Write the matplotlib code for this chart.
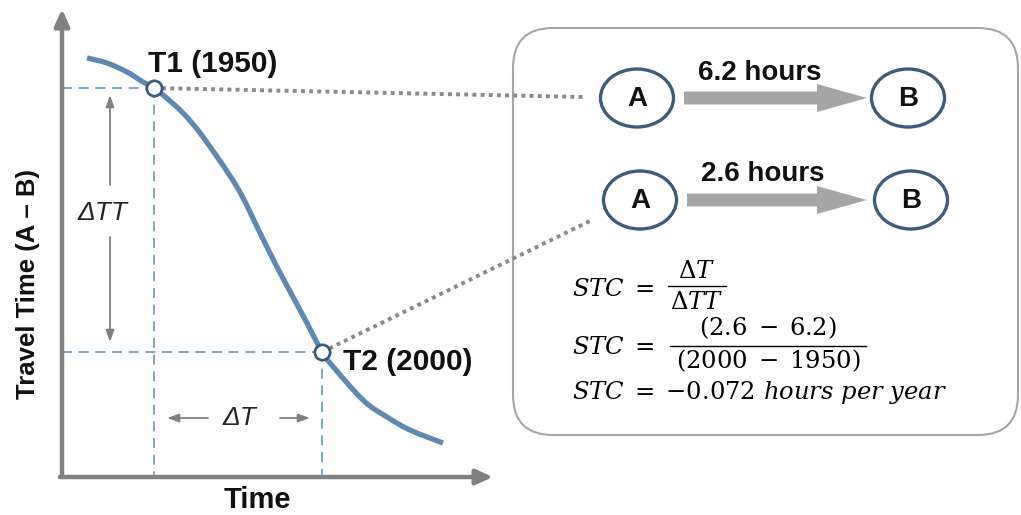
import matplotlib
matplotlib.use('Agg')
import matplotlib.pyplot as plt
from matplotlib.patches import Ellipse, FancyBboxPatch, FancyArrow, ConnectionPatch, PathPatch
from matplotlib.path import Path

# ---------------- data ----------------
curve_year = [1930.06, 1936.01, 1941.96, 1946.73, 1950.00, 1952.68, 1958.63, 1964.58,
              1974.70, 1981.55, 1986.61, 1991.37, 1995.83, 2000.00, 2002.38,
              2012.20, 2019.35, 2026.19, 2036.01]
curve_hours = [6.609, 6.541, 6.418, 6.282, 6.200, 6.105, 5.859, 5.532,
               4.850, 4.223, 3.759, 3.350, 2.968, 2.600, 2.450,
               1.945, 1.714, 1.536, 1.359]
point_years = [1950, 2000]
point_hours = [6.2, 2.6]
point_labels = ['T1 (1950)', 'T2 (2000)']
trip_labels = ['6.2 hours', '2.6 hours']
node_labels = ['A', 'B']
x_label = 'Time'
y_label = 'Travel Time (A – B)'

plt.rcParams['mathtext.fontset'] = 'dejavuserif'
SANS = ['Liberation Sans', 'DejaVu Sans']

fig = plt.figure(figsize=(10.21, 5.15), dpi=100)
fig.patch.set_facecolor('white')

# overlay in pixel coordinates (for the diagram panel and annotations)
ov = fig.add_axes([0, 0, 1, 1], zorder=0)
ov.set_xlim(0, 1021)
ov.set_ylim(515, 0)
ov.axis('off')

# chart axes in data coordinates (years, hours)
ax = fig.add_axes([62 / 1021, 38 / 515, 431 / 1021, 468 / 515], zorder=1)
ax.patch.set_visible(False)
ax.set_xlim(1922.62, 2050.89)
ax.set_ylim(0.896, 7.277)
for s in ax.spines.values():
    s.set_visible(False)
ax.set_xticks([])
ax.set_yticks([])

axis_kw = dict(arrowstyle='-|>,head_length=1.0,head_width=0.45', color='#808080',
               lw=3.2, shrinkA=0, shrinkB=0)
ax.annotate('', xy=(0, 1), xytext=(0, 0), xycoords='axes fraction', arrowprops=axis_kw)
ax.annotate('', xy=(1, 0), xytext=(-0.005, 0), xycoords='axes fraction', arrowprops=axis_kw)

xmin = ax.get_xlim()[0]
ymin = ax.get_ylim()[0]
for yr, h in zip(point_years, point_hours):
    ax.plot([xmin, yr], [h, h], color='#6a95bf', lw=1.2, ls=(0, (6, 4)), zorder=2)
    ax.plot([yr, yr], [h, ymin], color='#6a95bf', lw=1.2, ls=(0, (6, 4)), zorder=2)

# smooth curve through the read points (Catmull-Rom rendered as cubic Bezier path)
pts = list(zip(curve_year, curve_hours))
verts = [pts[0]]
codes = [Path.MOVETO]
n = len(pts)
for i in range(n - 1):
    p0 = pts[i - 1] if i > 0 else pts[i]
    p1 = pts[i]
    p2 = pts[i + 1]
    p3 = pts[i + 2] if i + 2 < n else pts[i + 1]
    c1 = (p1[0] + (p2[0] - p0[0]) / 6, p1[1] + (p2[1] - p0[1]) / 6)
    c2 = (p2[0] - (p3[0] - p1[0]) / 6, p2[1] - (p3[1] - p1[1]) / 6)
    verts += [c1, c2, p2]
    codes += [Path.CURVE4] * 3
ax.add_patch(PathPatch(Path(verts, codes), fc='none', ec='#5e89b2', lw=3.8,
                       capstyle='butt', joinstyle='round', zorder=3))

ax.plot(point_years, point_hours, 'o', ms=11, mfc='white', mec='#3d5b7a', mew=2,
        zorder=5, clip_on=False)

label_offsets = [(-4.5, 17), (15, -7)]
for yr, h, lab, off in zip(point_years, point_hours, point_labels, label_offsets):
    ax.annotate(lab, xy=(yr, h), xytext=off, textcoords='offset points',
                ha='left', va='center', fontsize=21.5, weight='bold', family=SANS,
                color='#111111', zorder=6)

# dotted connectors from the points to the A nodes
conn_ends = [(583, 97), (592, 220)]
for yr, h, end in zip(point_years, point_hours, conn_ends):
    cp = ConnectionPatch(xyA=(yr, h), coordsA=ax.transData, xyB=end, coordsB=ov.transData,
                         color='#8a8a8a', lw=2.8, ls=(0, (1.0, 1.1)), zorder=2.5,
                         capstyle='butt')
    ax.add_artist(cp)

# axis labels
ov.text(28, 284, y_label, rotation=90, ha='center', va='center', fontsize=18.5,
        weight='bold', family=SANS, color='#111111')
ov.text(257, 500, x_label, ha='center', va='center', fontsize=21, weight='bold',
        family=SANS, color='#111111')

# delta annotations
small_kw = dict(arrowstyle='-|>,head_length=0.7,head_width=0.25', color='#808080',
                lw=1.3, shrinkA=0, shrinkB=0)
ov.text(103, 213, 'ΔTT', style='italic', fontsize=19, family=SANS, ha='center',
        va='center', color='#262626')
ov.annotate('', xy=(110, 95), xytext=(110, 185), arrowprops=small_kw)
ov.annotate('', xy=(110, 342), xytext=(110, 237), arrowprops=small_kw)
ov.text(239, 418, 'ΔT', style='italic', fontsize=19, family=SANS, ha='center',
        va='center', color='#262626')
ov.annotate('', xy=(167, 418), xytext=(208, 418), arrowprops=small_kw)
ov.annotate('', xy=(310, 418), xytext=(280, 418), arrowprops=small_kw)

# right panel
box = FancyBboxPatch((513, 28), 505, 407, boxstyle='round,pad=0,rounding_size=40',
                     fc='none', ec='#a6a6a6', lw=1.5)
ov.add_patch(box)

row_y = [98, 200]
a_x = [637, 640]
b_x = [908, 911]
label_y = [73, 174]
label_x = [760, 763]
for i in range(2):
    for cx, nl in zip([a_x[i], b_x[i]], node_labels):
        ov.add_patch(Ellipse((cx, row_y[i]), 73, 58, fc='white', ec='#3d5b7a', lw=2.4))
        ov.text(cx, row_y[i] + 1, nl, ha='center', va='center', fontsize=20,
                weight='bold', family=SANS, color='#111111')
    ov.add_patch(FancyArrow(684 + 3 * i, row_y[i], 183 - 3 * i, 0, width=13, head_width=28,
                            head_length=50, length_includes_head=True, color='#a6a6a6', lw=0))
    ov.text(label_x[i], label_y[i], trip_labels[i], ha='center', va='center', fontsize=20,
            weight='bold', family=SANS, color='#111111')

# formulas
h1, h2 = point_hours
y1, y2 = point_years
stc = (h2 - h1) / (y2 - y1)
fs = 17.5
ov.text(572, 296, r'$STC\;=$', fontsize=fs, ha='left', va='baseline')
ov.text(697, 278, r'$\Delta T$', fontsize=fs, ha='center', va='baseline')
ov.text(697, 309, r'$\Delta TT$', fontsize=fs, ha='center', va='baseline')
ov.plot([668, 726], [286, 286], color='black', lw=1)

ov.text(572, 354, r'$STC\;=$', fontsize=fs, ha='left', va='baseline')
ov.text(768, 335, r'$(%.1f\;-\;%.1f)$' % (h2, h1), fontsize=fs, ha='center', va='baseline')
ov.text(768, 368, r'$(%d\;-\;%d)$' % (y2, y1), fontsize=fs, ha='center', va='baseline')
ov.plot([670, 866], [346, 346], color='black', lw=1)

ov.text(572, 399, r'$STC\;=\;{-}%.3f\ hours\ per\ year$' % abs(stc), fontsize=fs,
        ha='left', va='baseline')

fig.savefig('out.png', dpi=100)
